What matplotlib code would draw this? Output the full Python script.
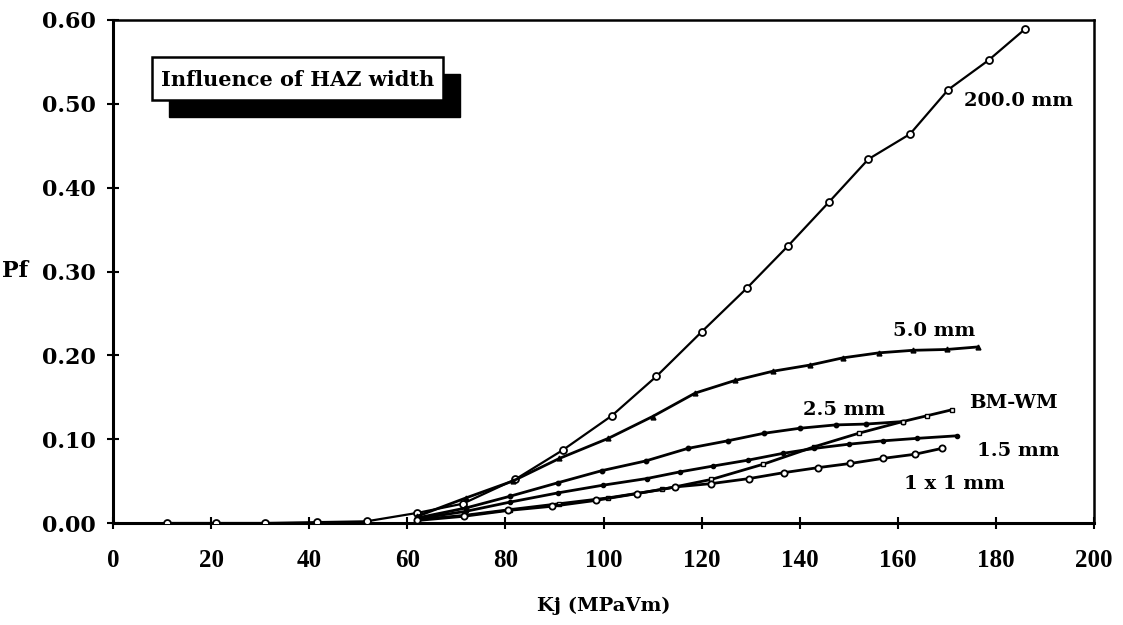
import matplotlib
matplotlib.use("Agg")
import matplotlib.pyplot as plt
from matplotlib.patches import Rectangle

# ---------------- data ----------------
kj_200 = [11, 21, 31, 41.5, 51.7, 62, 71.3, 82, 91.7, 101.7, 110.8, 120, 129.2,
          137.7, 146, 154, 162.5, 170.3, 178.5, 185.9]
pf_200 = [0.0, 0.0, 0.0, 0.001, 0.002, 0.012, 0.023, 0.052, 0.087, 0.128, 0.175,
          0.228, 0.280, 0.331, 0.383, 0.434, 0.464, 0.517, 0.552, 0.589]

kj_5 = [62, 72, 81.5, 91, 101, 110, 118.7, 126.8, 134.5, 142.2, 148.8, 156.2,
        163.1, 170, 176.3]
pf_5 = [0.008, 0.030, 0.050, 0.077, 0.101, 0.127, 0.155, 0.170, 0.181, 0.1885,
        0.197, 0.203, 0.206, 0.207, 0.210]

kj_25 = [62, 72, 81, 90.7, 99.7, 108.6, 117.2, 125.3, 132.7, 140, 147.3, 153.5, 161]
pf_25 = [0.006, 0.018, 0.032, 0.048, 0.0625, 0.074, 0.089, 0.098, 0.107, 0.113,
         0.117, 0.118, 0.121]

kj_bm = [62, 71.5, 81, 91, 101, 112, 122, 132.5, 143, 152, 161, 166, 171]
pf_bm = [0.004, 0.009, 0.016, 0.023, 0.030, 0.040, 0.052, 0.070, 0.091, 0.107,
         0.121, 0.128, 0.135]

kj_15 = [62, 72, 81, 90.8, 99.8, 108.8, 115.6, 122.4, 129.5, 136.5, 143, 150,
         157, 164, 172]
pf_15 = [0.005, 0.014, 0.025, 0.036, 0.045, 0.053, 0.061, 0.068, 0.075, 0.083,
         0.089, 0.094, 0.098, 0.101, 0.104]

kj_11 = [62, 71.5, 80.6, 89.6, 98.5, 106.8, 114.6, 122, 129.7, 136.7, 143.7,
         150.3, 156.9, 163.5, 169]
pf_11 = [0.003, 0.008, 0.015, 0.020, 0.027, 0.035, 0.043, 0.047, 0.053, 0.060,
         0.066, 0.071, 0.077, 0.082, 0.089]

series_labels = ["200.0 mm", "5.0 mm", "2.5 mm", "BM-WM", "1.5 mm", "1 x 1 mm"]
label_pos = [(173.5, 0.503), (167.5, 0.229), (149, 0.135), (183.5, 0.143),
             (184.5, 0.086), (171.5, 0.047)]
label_ha = ["left", "center", "center", "center", "center", "center"]

x_ticks = [0, 20, 40, 60, 80, 100, 120, 140, 160, 180, 200]
y_ticks = [0.00, 0.10, 0.20, 0.30, 0.40, 0.50, 0.60]
title_text = "Influence of HAZ width"
x_label = "Kj (MPaVm)"
y_label = "Pf"

# ---------------- figure ----------------
SERIF = ["Liberation Serif", "DejaVu Serif"]
WIDE = ["DejaVu Serif", "Liberation Serif"]
plt.rcParams["font.family"] = SERIF

fig = plt.figure(figsize=(11.23, 6.25), dpi=100)
ax = fig.add_axes([113 / 1123, 1 - 523 / 625, (1094 - 113) / 1123, (523 - 20) / 625])

ax.plot(kj_200, pf_200, color="black", lw=1.6, marker="o", ms=5,
        mfc="white", mec="black", mew=1.3, zorder=3)
ax.plot(kj_5, pf_5, color="black", lw=2.0, marker="^", ms=3.5,
        mfc="black", mec="black", zorder=3)
ax.plot(kj_25, pf_25, color="black", lw=2.0, marker="o", ms=3.2,
        mfc="black", mec="black", zorder=3)
ax.plot(kj_bm, pf_bm, color="black", lw=2.0, marker="s", ms=3.5,
        mfc="white", mec="black", mew=1.0, zorder=3)
ax.plot(kj_15, pf_15, color="black", lw=2.0, marker="o", ms=3.0,
        mfc="black", mec="black", zorder=3)
ax.plot(kj_11, pf_11, color="black", lw=2.0, marker="o", ms=4.5,
        mfc="white", mec="black", mew=1.3, zorder=3)

for txt, (lx, ly), ha in zip(series_labels, label_pos, label_ha):
    ax.text(lx, ly, txt, ha=ha, va="center", fontsize=14, fontweight="bold",
            family=WIDE, color="black", zorder=5)

ax.set_xlim(0, 200)
ax.set_ylim(0, 0.60)
ax.set_xticks(x_ticks)
ax.set_xticklabels([str(t) for t in x_ticks])
ax.set_yticks(y_ticks)
ax.set_yticklabels([f"{t:.2f}" for t in y_ticks])

ax.tick_params(axis="x", direction="inout", length=9, width=1.5, pad=14,
               labelsize=18)
ax.tick_params(axis="y", direction="inout", length=9, width=1.5, pad=8,
               labelsize=16)
for lbl in ax.get_xticklabels():
    lbl.set_fontweight("bold")
for lbl in ax.get_yticklabels():
    lbl.set_fontweight("bold")
    lbl.set_family(WIDE)

for side in ["left", "bottom"]:
    ax.spines[side].set_linewidth(2.2)
for side in ["top", "right"]:
    ax.spines[side].set_linewidth(1.8)

# axis labels
fig.text(603.5 / 1123, 1 - 606 / 625, x_label, ha="center", va="center",
         fontsize=14, fontweight="bold", family=WIDE)
fig.text(2 / 1123, 1 - 271 / 625, y_label, ha="left", va="center",
         fontsize=16, fontweight="bold", family=WIDE)

# title box with drop shadow
bx0, by0, bx1, by1 = 151.7, 56.7, 443.3, 100.0
off = 17
shadow = Rectangle(((bx0 + off) / 1123, 1 - (by1 + off) / 625),
                   (bx1 - bx0) / 1123, (by1 - by0) / 625,
                   transform=fig.transFigure, facecolor="black",
                   edgecolor="black", zorder=6)
box = Rectangle((bx0 / 1123, 1 - by1 / 625), (bx1 - bx0) / 1123,
                (by1 - by0) / 625, transform=fig.transFigure,
                facecolor="white", edgecolor="black", lw=1.8, zorder=7)
fig.add_artist(shadow)
fig.add_artist(box)
fig.text((bx0 + bx1) / 2 / 1123, 1 - 80 / 625, title_text, ha="center",
         va="center", fontsize=15, fontweight="bold", family=WIDE, zorder=8)

fig.savefig("out.png", dpi=100)
